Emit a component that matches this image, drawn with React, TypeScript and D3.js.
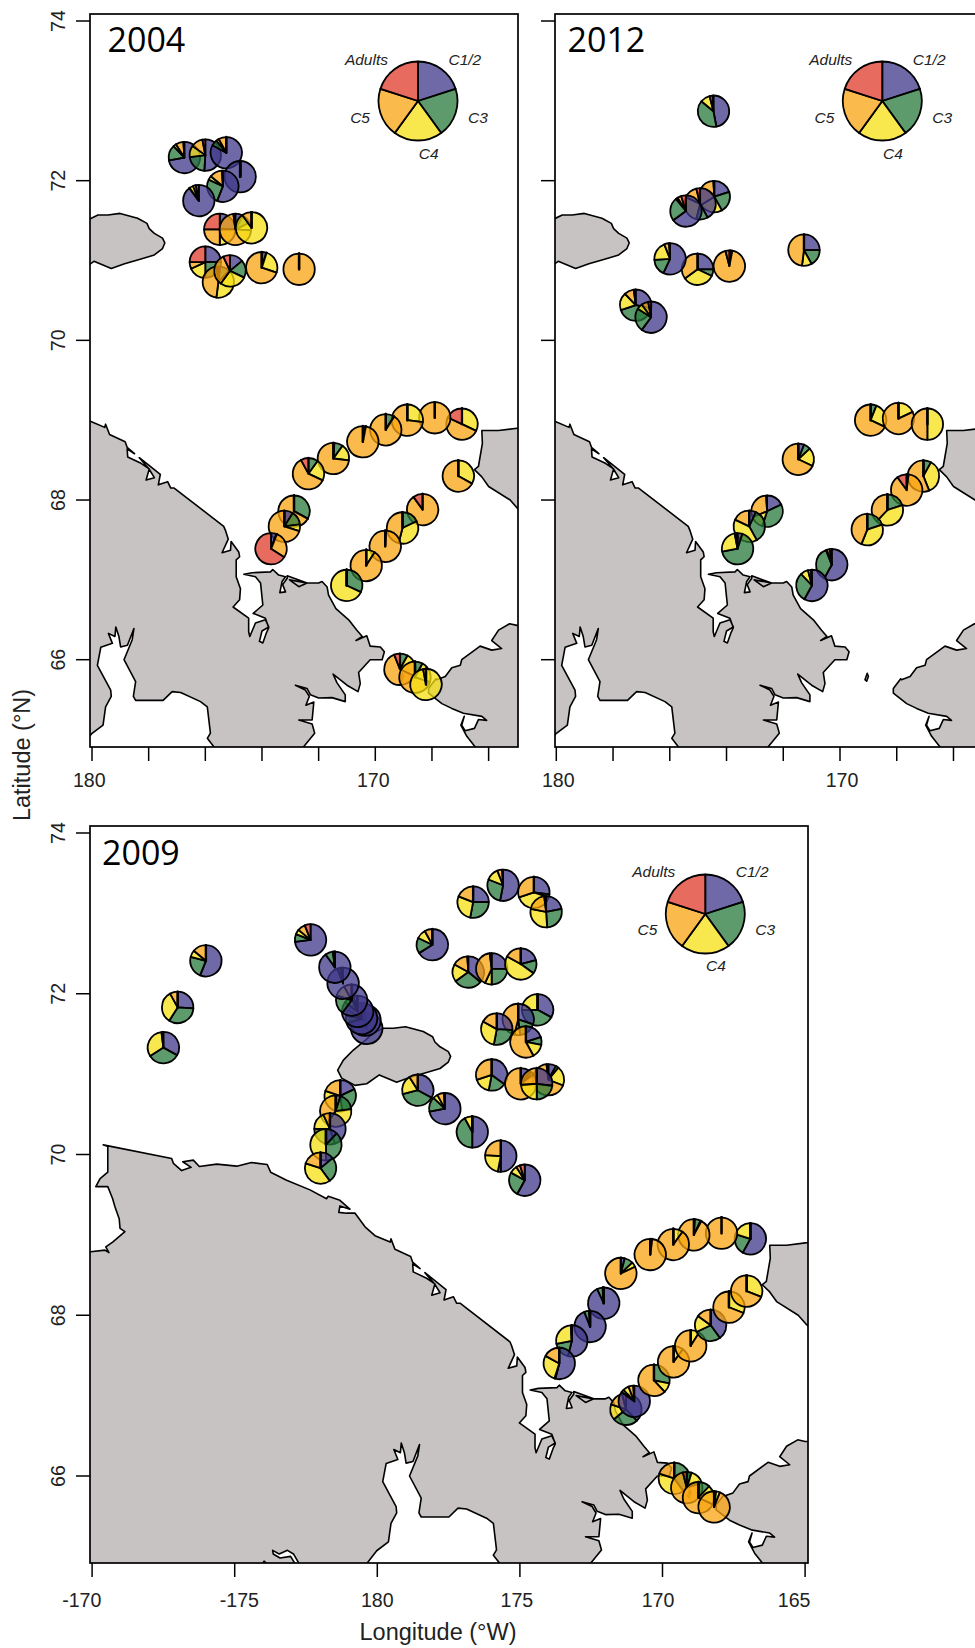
import React, { useEffect, useRef } from 'react';
import * as d3 from 'd3';

// Fill of each stage round a pie, clockwise from north: C1/2, C3, C4, C5, Adults
const stageColors = ['#3f388a', '#287a3b', '#f5e013', '#f9a410', '#e03a2a'];

// Coastlines as [longitude (degrees west of Greenwich, past 180 = east), latitude]
const mainland = [
  [190.42, 68.79], [190.05, 68.79], [189.55, 68.81], [189.41, 68.78], [189.52, 68.85], [189.28, 68.91],
  [188.85, 69.04], [189.02, 69.08], [189.05, 69.2], [189.2, 69.35], [189.28, 69.45], [189.45, 69.6],
  [189.87, 69.6], [189.72, 69.7], [189.45, 69.78], [189.45, 70.1], [189.61, 70.12], [187.21, 69.95],
  [187.15, 69.89], [186.86, 69.8], [186.53, 69.84], [186.82, 69.91], [186.45, 69.93], [186.24, 69.85],
  [185.63, 69.88], [184.93, 69.855], [184.41, 69.9], [183.86, 69.875], [183.74, 69.78], [183.18, 69.68],
  [182.36, 69.56], [181.78, 69.45], [181.72, 69.48], [181.31, 69.43], [180.96, 69.32], [181.31, 69.36],
  [181.35, 69.28], [181.07, 69.27], [180.78, 69.27], [180.43, 69.1], [180.08, 68.99], [179.55, 68.91],
  [179.52, 68.95], [179.38, 68.82], [178.83, 68.73], [178.76, 68.66], [178.5, 68.58], [178.76, 68.64],
  [178.74, 68.54], [178.27, 68.46], [177.98, 68.39], [178.09, 68.25], [177.8, 68.28], [177.98, 68.385],
  [178.33, 68.53], [177.59, 68.32], [177.66, 68.19], [177.33, 68.23], [177.22, 68.15], [177.1, 68.15],
  [175.35, 67.67], [175.29, 67.62], [175.19, 67.51], [175.41, 67.34], [175.11, 67.37], [175.09, 67.48],
  [174.82, 67.35], [174.79, 67.29], [174.91, 67.25], [174.91, 67.04], [174.76, 66.89], [174.79, 66.75],
  [175.02, 66.66], [174.47, 66.52], [174.47, 66.35], [174.43, 66.29], [174.23, 66.46], [173.88, 66.5],
  [173.76, 66.41], [174.0, 66.36], [174.09, 66.23], [173.97, 66.21], [173.84, 66.34], [173.76, 66.4],
  [173.88, 66.52], [174.31, 66.58], [173.97, 66.685], [174.05, 66.96], [174.23, 67.04], [174.64, 67.07],
  [174.35, 67.09], [173.7, 67.1], [173.62, 67.13], [173.41, 67.06], [173.17, 67.04], [173.29, 66.98],
  [173.37, 66.84], [173.17, 66.85], [173.27, 66.94], [173.11, 67.02], [173.11, 67.05], [172.41, 66.96],
  [172.7, 66.915], [173.03, 67.0], [172.41, 66.96], [172.0, 66.96], [171.88, 66.98], [171.7, 66.91],
  [171.65, 66.81], [171.39, 66.64], [170.94, 66.5], [170.65, 66.37], [170.46, 66.29], [170.68, 66.24],
  [170.3, 66.3], [170.18, 66.17], [169.82, 66.16], [169.68, 66.1], [169.76, 66.0], [170.18, 66.0],
  [170.59, 65.84], [170.53, 65.7], [170.61, 65.6], [171.0, 65.68], [171.49, 65.82], [171.35, 65.71],
  [171.06, 65.56], [171.06, 65.475], [171.53, 65.525], [172.0, 65.52], [172.29, 65.56], [172.41, 65.64],
  [172.82, 65.68], [172.47, 65.62], [172.33, 65.54], [172.45, 65.43], [172.17, 65.47], [172.23, 65.245],
  [172.7, 65.245], [172.23, 65.195], [172.14, 65.08], [172.53, 64.91], [172.82, 64.76], [173.2, 64.5],
  [175.9, 64.5], [175.7, 64.91], [175.93, 65.015], [175.82, 65.08], [175.93, 65.41], [176.17, 65.475],
  [176.87, 65.59], [177.17, 65.6], [177.49, 65.49], [178.46, 65.49], [178.54, 65.54], [178.46, 65.725],
  [178.87, 66.0], [178.58, 66.25], [178.52, 66.39], [178.75, 66.18], [178.99, 66.16], [179.05, 66.29],
  [179.16, 66.41], [179.19, 66.29], [179.42, 66.33], [179.28, 66.205], [179.69, 66.155], [179.81, 65.93],
  [179.34, 65.62], [179.32, 65.54], [179.52, 65.41], [179.61, 65.18], [180.02, 65.07], [180.37, 64.91],
  [180.55, 64.83], [180.9, 64.5], [190.42, 64.5],
];
const wrangel = [
  [181.39, 71.05], [181.19, 71.174], [180.84, 71.3], [180.49, 71.4], [180.14, 71.51], [179.79, 71.57],
  [179.44, 71.57], [179.01, 71.59], [178.39, 71.53], [178.06, 71.465], [177.98, 71.4], [177.8, 71.34],
  [177.51, 71.28], [177.43, 71.22], [177.51, 71.15], [177.8, 71.07], [178.27, 71.02], [178.85, 70.96],
  [179.32, 70.9], [179.93, 70.99], [180.37, 70.88], [180.78, 70.86], [181.25, 70.95],
];
const alaskaNorth = [
  [164, 68.95], [164.99, 68.9], [165.65, 68.87], [166.24, 68.87], [166.22, 68.71], [166.36, 68.42],
  [166.5, 68.38], [166.24, 68.29], [166.0, 68.17], [165.24, 68.0], [164.97, 67.89], [164, 67.6],
];
const seward = [
  [164, 66.43], [165.0, 66.43], [165.26, 66.45], [165.65, 66.37], [165.89, 66.24], [165.54, 66.14],
  [165.89, 66.12], [166.3, 66.17], [166.95, 66.0], [167.0, 65.93], [167.3, 65.9], [167.53, 65.79],
  [167.83, 65.75], [167.86, 65.76], [168.12, 65.64], [168.12, 65.58], [167.65, 65.45], [167.3, 65.39],
  [166.89, 65.33], [166.24, 65.29], [166.07, 65.24], [166.36, 65.25], [166.5, 65.14], [166.83, 65.11],
  [166.95, 65.18], [166.86, 65.29], [166.98, 65.18], [166.77, 65.04], [166.48, 64.91], [166.35, 64.8],
  [164, 64.5],
];
const islet = [[169.12, 65.75], [169.04, 65.83], [169.0, 65.79], [169.06, 65.73]];
const lagoonA = [
  [183.67, 65.075], [183.44, 65.03], [183.15, 65.075], [182.94, 65.03], [182.71, 64.89], [182.85, 64.89],
  [183.04, 65.0], [183.41, 64.98], [183.65, 65.03],
];
const lagoonB = [[184.05, 64.89], [183.97, 64.94], [183.82, 64.89]];

// Stations, 2004
const lon2004 = [176.74, 176.0, 175.26, 174.77, 175.38, 176.23, 175.49, 174.94, 174.37, 176.0, 174.01, 172.69, 175.54, 175.13,
  166.94, 167.9, 168.87, 169.63, 170.44, 171.48, 172.36, 172.87, 173.21, 173.68, 167.07, 168.33, 169.04, 169.65, 170.32, 171.01, 169.13, 168.6, 168.21];
const lat2004 = [72.29, 72.32, 72.35, 72.05, 71.93, 71.75, 71.39, 71.39, 71.41, 70.98, 70.91, 70.89, 70.73, 70.87,
  68.95, 69.03, 69.0, 68.88, 68.73, 68.52, 68.33, 67.86, 67.67, 67.39, 68.3, 67.88, 67.65, 67.42, 67.18, 66.93, 65.88, 65.78, 65.69];
const comp2004 = [
  [72, 16, 3, 8, 1], [51, 22, 12, 12, 3], [83, 6, 3, 8, 0], [100, 0, 0, 0, 0], [56, 26, 4, 13, 1], [90, 0, 4, 3, 3],
  [25, 0, 25, 25, 25], [8, 10, 8, 72, 2], [0, 0, 90, 10, 0], [25, 25, 18, 7, 25], [5, 0, 25, 70, 0], [0, 0, 0, 100, 0],
  [2, 10, 40, 46, 2], [14, 18, 28, 33, 7],
  [0, 0, 32, 50, 18], [0, 0, 0, 100, 0], [0, 0, 27, 73, 0], [0, 9, 0, 91, 0], [3, 0, 0, 97, 0], [1, 9, 17, 73, 0],
  [0, 10, 22, 60, 8], [0, 33, 0, 67, 0], [9, 14, 7, 70, 0], [6, 0, 0, 28, 66], [0, 0, 33, 67, 0], [0, 0, 0, 90, 10],
  [0, 18, 36, 46, 0], [0, 0, 1, 99, 0], [0, 0, 9, 91, 0], [0, 32, 68, 0, 0], [0, 8, 24, 62, 6], [0, 8, 22, 70, 0], [0, 0, 97, 3, 0],
];

// Stations, 2012
const lon2012 = [174.46, 174.43, 174.93, 175.43, 171.27, 173.9, 175.02, 175.99, 177.2, 176.66,
  168.92, 167.94, 166.92, 171.47, 167.06, 167.65, 168.33, 169.04, 172.57, 173.2, 173.61, 170.29, 170.99];
const lat2012 = [72.87, 71.8, 71.71, 71.62, 71.13, 70.93, 70.89, 71.02, 70.44, 70.29,
  69.0, 69.02, 68.95, 68.51, 68.3, 68.125, 67.875, 67.63, 67.86, 67.67, 67.39, 67.19, 66.93];
const comp2012 = [
  [47, 39, 10, 3, 1], [20, 22, 24, 33, 1], [42, 12, 28, 14, 4], [65, 24, 2, 4, 5], [25, 17, 10, 48, 0], [1, 1, 1, 93, 4],
  [25, 7, 33, 35, 0], [57, 17, 20, 5, 1], [28, 42, 18, 10, 2], [60, 24, 6, 7, 3],
  [0, 6, 26, 68, 0], [0, 0, 18, 82, 0], [0, 0, 50, 50, 0], [6, 7, 19, 68, 0], [0, 8, 36, 56, 0], [0, 0, 2, 88, 10],
  [0, 20, 42, 38, 0], [0, 20, 36, 44, 0], [18, 37, 14, 30, 1], [7, 35, 40, 18, 0], [5, 67, 25, 2, 1], [58, 36, 1, 3, 2], [58, 30, 8, 3, 1],
];

// Stations, 2009 (drawing order matters where pies overlap)
const lon2009 = [186.01, 187.0, 187.5, 182.34, 180.37, 180.43, 180.55, 180.69, 180.9, 181.2, 181.49,
  181.3, 181.46, 181.66, 181.8, 181.99, 178.58, 177.63, 176.67, 175.67, 174.83,
  178.07, 176.64, 175.59, 174.51, 174.08, 176.81, 175.99, 174.97, 174.38, 175.06, 175.81, 174.79, 175.99, 174.0, 174.97, 174.41,
  166.92, 167.93, 168.9, 169.62, 170.43, 171.46, 172.06, 172.54, 173.18, 173.62,
  171.28, 170.99, 170.3, 169.61, 169.01, 168.31, 167.67, 167.05, 169.59, 169.15, 168.74, 168.19];
const lat2009 = [72.41, 71.83, 71.33, 72.67, 71.57, 71.67, 71.69, 71.78, 71.92, 72.13, 72.33,
  70.73, 70.54, 70.32, 70.12, 69.83, 70.8, 70.57, 70.28, 69.98, 69.68,
  72.61, 73.14, 73.35, 73.26, 73.02, 72.27, 72.31, 72.37, 71.8, 71.68, 71.56, 71.4, 70.99, 70.93, 70.88, 70.88,
  68.95, 69.02, 69.0, 68.88, 68.755, 68.52, 68.15, 67.86, 67.68, 67.4,
  66.83, 66.93, 67.19, 67.42, 67.62, 67.875, 68.1, 68.3, 65.97, 65.855, 65.73, 65.615];
const comp2009 = [
  [56, 23, 7, 14, 0], [26, 33, 33, 8, 0], [33, 33, 32, 1, 1], [73, 8, 5, 8, 6],
  [96, 2, 1, 1, 0], [75, 20, 2, 2, 1], [70, 8, 6, 8, 8], [85, 8, 3, 3, 1], [60, 20, 12, 8, 0], [94, 3, 1, 1, 1], [90, 8, 1, 1, 0],
  [18, 30, 32, 20, 0], [5, 18, 37, 40, 0], [45, 30, 18, 7, 0], [12, 38, 50, 0, 0], [14, 26, 40, 20, 0],
  [33, 38, 20, 9, 0], [72, 15, 5, 7, 1], [50, 42, 8, 0, 0], [50, 3, 23, 24, 0], [58, 25, 8, 4, 5],
  [66, 16, 10, 8, 0], [25, 28, 28, 19, 0], [53, 28, 13, 5, 1], [27, 3, 40, 30, 0], [22, 27, 29, 20, 2],
  [36, 29, 18, 16, 1], [25, 25, 7, 41, 2], [21, 14, 48, 17, 0], [33, 42, 25, 0, 0], [30, 18, 6, 46, 0],
  [26, 27, 30, 17, 0], [20, 8, 14, 58, 0], [35, 18, 17, 30, 0], [8, 3, 20, 67, 2], [10, 2, 3, 85, 0], [27, 23, 24, 26, 0],
  [58, 22, 20, 0, 0], [0, 0, 0, 100, 0], [1, 6, 1, 92, 0], [0, 0, 10, 90, 0], [1, 1, 0, 98, 0], [4, 9, 5, 82, 0],
  [93, 6, 0, 1, 0], [94, 5, 1, 0, 0], [54, 18, 27, 1, 0], [54, 1, 28, 17, 0],
  [38, 26, 16, 16, 4], [85, 3, 6, 5, 1], [0, 28, 10, 62, 0], [0, 0, 10, 90, 0], [0, 0, 9, 91, 0], [40, 28, 17, 15, 0],
  [0, 0, 31, 69, 0], [0, 0, 31, 69, 0], [0, 40, 40, 20, 0], [0, 5, 15, 76, 4], [0, 12, 20, 68, 0], [1, 1, 4, 94, 0],
];

const latTicks = [74, 72, 70, 68, 66];
const lonTicks2004 = [180, 178, 176, 174, 172, 170, 168, 166];
const lonTicks2012 = [180, 178, 176, 174, 172, 170, 168, 166, 164];
const lonLabelsShort = ['180', '', '', '', '', '170', '', '', ''];
const lonTicks2009 = [190, 185, 180, 175, 170, 165];
const lonLabels2009 = ['-170', '-175', '180', '175', '170', '165'];

const panels = [
  {
    year: '2004', lon: lon2004, lat: lat2004, comp: comp2004,
    frame: { left: 90, right: 518, top: 14, bottom: 747 },
    xDomain: [180, 170], xRange: [92, 375.3], yDomain: [74, 66], yRange: [21, 659.7],
    xTicks: lonTicks2004, xLabels: lonLabelsShort, xLabelDx: [-2.7, 0, 0, 0, 0, -2, 0, 0], xLabelY: 39.7,
    showLat: true, legend: [418, 101], title: [107.5, 52], keyDy: 0,
  },
  {
    year: '2012', lon: lon2012, lat: lat2012, comp: comp2012,
    frame: { left: 555, right: 1060, top: 14, bottom: 747 },
    xDomain: [180, 170], xRange: [556.3, 840], yDomain: [74, 66], yRange: [21, 659.7],
    xTicks: lonTicks2012, xLabels: lonLabelsShort, xLabelDx: [2, 0, 0, 0, 0, 2, 0, 0, 0], xLabelY: 39.7,
    showLat: false, legend: [882.3, 101], title: [567.5, 52], keyDy: 0,
  },
  {
    year: '2009', lon: lon2009, lat: lat2009, comp: comp2009,
    frame: { left: 90, right: 808, top: 826, bottom: 1563 },
    xDomain: [180, 170], xRange: [377.3, 662.5], yDomain: [74, 66], yRange: [833, 1476],
    xTicks: lonTicks2009, xLabels: lonLabels2009, xLabelDx: [-10.3, 4.7, 0, -3, -4.5, -11], xLabelY: 44,
    showLat: true, legend: [705.3, 914], title: [102, 865], keyDy: -1.5,
  },
];

// label, dx, dy, anchor of the key round its pie
const legendLabels = [
  ['Adults', -30, -36, 'end'], ['C1/2', 30.5, -36, 'start'], ['C5', -48, 22, 'end'],
  ['C3', 50, 22, 'start'], ['C4', 0.7, 58, 'start'],
];

const App = () => {
  const chartRef = useRef<SVGSVGElement>(null);

  useEffect(() => {
    const svg = d3.select(chartRef.current);
    svg.selectAll('*').remove();

    const pie = d3.pie<number>().sort(null).value(d => d);
    const drawPie = (g: any, values: number[], radius: number) => {
      const arc = d3.arc<any>().innerRadius(0).outerRadius(radius);
      g.selectAll('path')
        .data(pie(values))
        .join('path')
        .attr('d', arc)
        .attr('fill', (_: any, i: number) => stageColors[i])
        .attr('fill-opacity', 0.75)
        .attr('stroke', '#000')
        .attr('stroke-width', (d: any) => (d.value === 0 ? 2.4 : 1.8))
        .attr('stroke-linejoin', 'round');
    };

    panels.forEach((p, pi) => {
      const { left, right, top, bottom } = p.frame;
      const x = d3.scaleLinear().domain(p.xDomain).range(p.xRange);
      const y = d3.scaleLinear().domain(p.yDomain).range(p.yRange);
      const coast = d3.line<number[]>().x(d => x(d[0])).y(d => y(d[1])).curve(d3.curveLinearClosed);

      const clipId = `clip-${pi}`;
      svg.append('clipPath').attr('id', clipId)
        .append('rect').attr('x', left).attr('y', top).attr('width', right - left).attr('height', bottom - top);

      const map = svg.append('g').attr('clip-path', `url(#${clipId})`);
      [mainland, wrangel, alaskaNorth, seward, islet].forEach(shape => {
        map.append('path').attr('d', coast(shape))
          .attr('fill', '#c6c3c2').attr('stroke', '#000').attr('stroke-width', 1.6).attr('stroke-linejoin', 'round');
      });
      [lagoonA, lagoonB].forEach(shape => {
        map.append('path').attr('d', coast(shape))
          .attr('fill', '#fff').attr('stroke', '#000').attr('stroke-width', 1.6).attr('stroke-linejoin', 'round');
      });

      p.comp.forEach((values, i) => {
        const g = svg.append('g').attr('transform', `translate(${x(p.lon[i])},${y(p.lat[i])})`);
        drawPie(g, values, 15.7);
      });

      // Key
      const key = svg.append('g').attr('transform', `translate(${p.legend[0]},${p.legend[1]})`);
      drawPie(key, [1, 1, 1, 1, 1], 39.5);
      legendLabels.forEach(([label, dx, dy, anchor]) => {
        key.append('text').text(label as string)
          .attr('x', dx as number).attr('y', (dy as number) + p.keyDy).attr('text-anchor', anchor as string)
          .attr('font-family', '"Liberation Sans", Arial, sans-serif')
          .attr('font-style', 'italic').attr('font-size', 15.5).attr('fill', '#222');
      });

      svg.append('rect').attr('x', left).attr('y', top).attr('width', right - left).attr('height', bottom - top)
        .attr('fill', 'none').attr('stroke', '#000').attr('stroke-width', 1.7);

      svg.append('text').text(p.year)
        .attr('x', p.title[0]).attr('y', p.title[1])
        .attr('font-family', '"Open Sans", sans-serif').attr('font-size', 34).attr('fill', '#000');

      // Axes
      const xAxis = svg.append('g').attr('transform', `translate(0,${bottom})`)
        .call(d3.axisBottom(x).tickValues(p.xTicks).tickSize(14).offset(0)
          .tickFormat((_: any, i: number) => p.xLabels[i]));
      xAxis.select('.domain').remove();
      xAxis.selectAll('line').attr('stroke', '#000').attr('stroke-width', 1.5);
      xAxis.selectAll('text')
        .attr('y', p.xLabelY).attr('dy', 0)
        .attr('x', (_: any, i: number) => p.xLabelDx[i])
        .attr('font-family', '"Liberation Sans", Arial, sans-serif').attr('font-size', 19.6).attr('fill', '#222');

      const yAxis = svg.append('g').attr('transform', `translate(${left},0)`)
        .call(d3.axisLeft(y).tickValues(latTicks).tickSize(14).offset(0)
          .tickFormat((d: any) => (p.showLat ? String(d) : '')));
      yAxis.select('.domain').remove();
      yAxis.selectAll('line').attr('stroke', '#000').attr('stroke-width', 1.5);
      yAxis.selectAll('text')
        .attr('transform', 'rotate(-90)')
        .attr('x', 0).attr('y', -25).attr('dy', 0).attr('text-anchor', 'middle')
        .attr('font-family', '"Liberation Sans", Arial, sans-serif').attr('font-size', 19.6).attr('fill', '#222');
    });

    svg.append('text').text('Latitude (°N)')
      .attr('transform', 'translate(30,755) rotate(-90)').attr('text-anchor', 'middle')
      .attr('font-family', '"Liberation Sans", Arial, sans-serif').attr('font-size', 23.5).attr('fill', '#222');
    svg.append('text').text('Longitude (°W)')
      .attr('x', 438).attr('y', 1640).attr('text-anchor', 'middle')
      .attr('font-family', '"Liberation Sans", Arial, sans-serif').attr('font-size', 23.5).attr('fill', '#222');
  }, []);

  return (
    <svg ref={chartRef} width={975} height={1648}
      style={{ position: 'absolute', left: 0, top: 0, background: '#fff' }} />
  );
};

export default App;
